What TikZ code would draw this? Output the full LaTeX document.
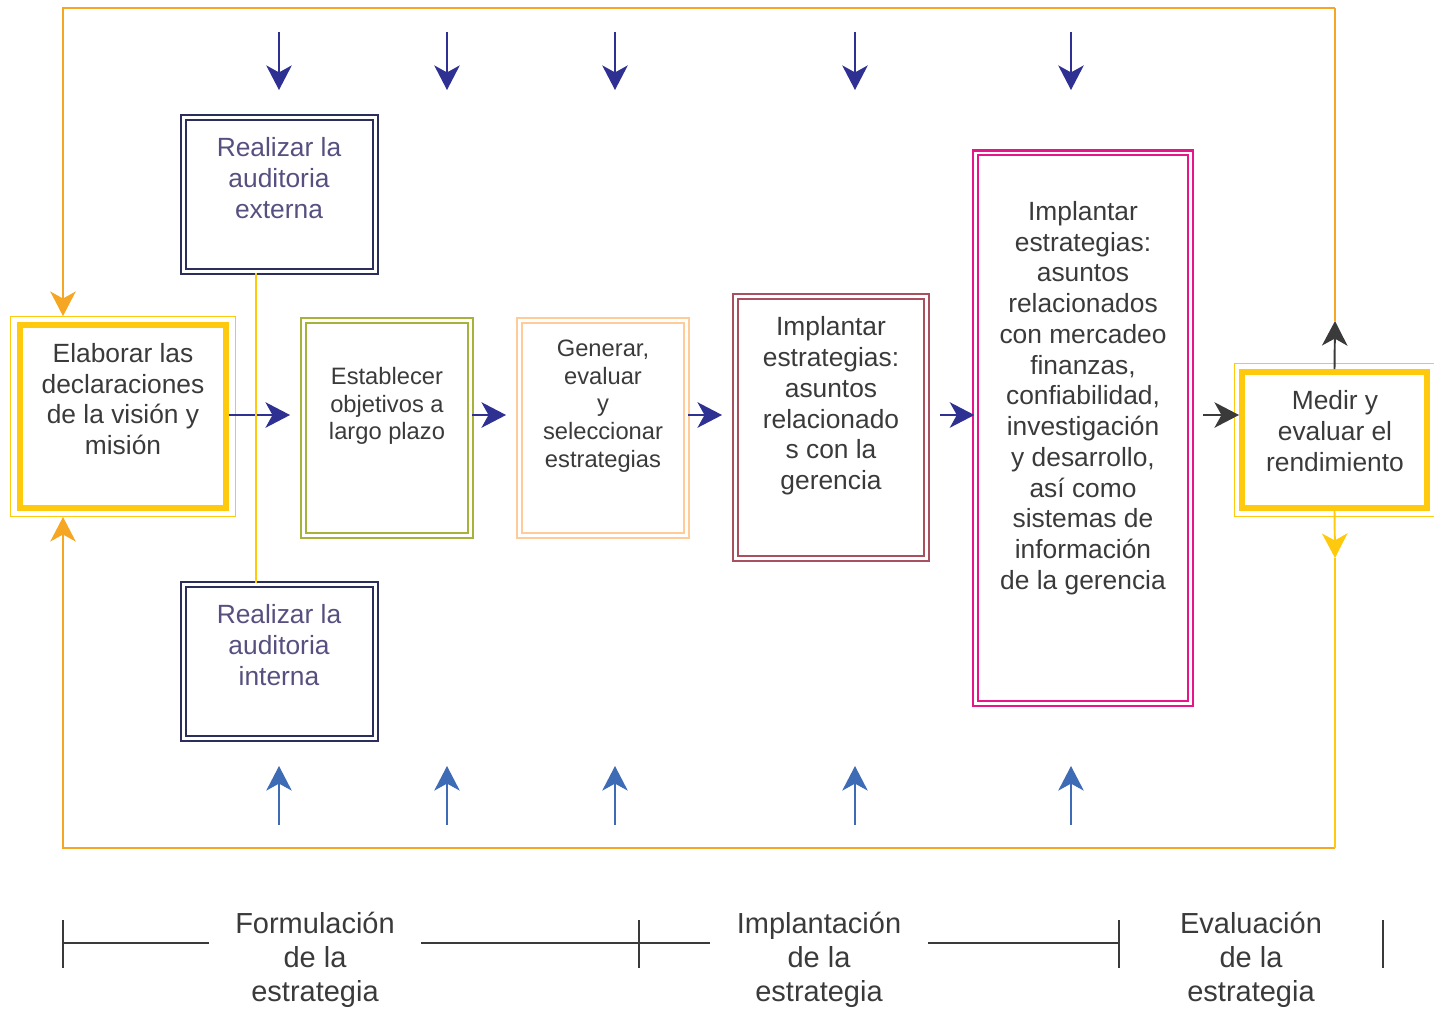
\documentclass[tikz,border=0pt]{standalone}
\usepackage{fontspec}
\setmainfont{Liberation Sans}
\usepackage{xcolor}
\usetikzlibrary{arrows.meta}
\definecolor{PEOrange}{HTML}{F5A623}
\definecolor{PEYellow}{HTML}{FFC90E}
\definecolor{PENavy}{HTML}{2B2D5B}
\definecolor{PEPurple}{HTML}{55507F}
\definecolor{PEOlive}{HTML}{A7B23A}
\definecolor{PEPeach}{HTML}{FFCC99}
\definecolor{PEMauve}{HTML}{A8505F}
\definecolor{PEMagenta}{HTML}{E6168A}
\definecolor{PEArrow}{HTML}{2E3192}
\definecolor{PEBlue}{HTML}{3D6BB5}
\definecolor{PEText}{HTML}{3A3A3A}

\begin{document}
\begin{tikzpicture}[x=0.02cm,y=-0.02cm,
  >={Stealth[length=14pt,width=14.5pt,inset=4pt]},
  dbox/.style={draw=#1,double=white,line width=1.3pt,double distance=1.2pt,inner sep=0pt},
  ybox/.style={draw=PEYellow,line width=3.4pt,inner sep=0pt},
  yframe/.style={draw=PEYellow,line width=0.8pt,inner sep=0pt},
  txt/.style={align=center,text=PEText,font=\fontsize{15}{17.5}\selectfont},
  small/.style={align=center,text=PEText,font=\fontsize{13.5}{15.8}\selectfont},
  phase/.style={align=center,text=PEText,inner xsep=15pt,font=\fontsize{16.5}{19.3}\selectfont},
  flow/.style={PEArrow,line width=1.1pt,->},
  darkflow/.style={PEText,line width=1.1pt,->},
  loopline/.style={PEOrange,line width=1.1pt},
  yline/.style={PEYellow,line width=1.1pt},
  tline/.style={PEText,line width=0.85pt}]
\path[use as bounding box] (0,0) rectangle (1434,1009);

% boxes
\node[ybox,minimum width=4.12cm,minimum height=3.66cm] (ela) at (123,416.5) {};
\node[yframe,minimum width=4.49cm,minimum height=3.99cm] (elo) at (123,416.5) {};
\node[dbox=PENavy,minimum width=3.84cm,minimum height=3.08cm] (ext) at (279.5,194.5) {};
\node[dbox=PENavy,minimum width=3.84cm,minimum height=3.08cm] (int) at (279.5,661.5) {};
\node[dbox=PEOlive,minimum width=3.34cm,minimum height=4.30cm] (est) at (387,428) {};
\node[dbox=PEPeach,minimum width=3.34cm,minimum height=4.30cm] (gen) at (603,428) {};
\node[dbox=PEMauve,minimum width=3.82cm,minimum height=5.24cm] (ger) at (831,427.5) {};
\node[dbox=PEMagenta,minimum width=4.30cm,minimum height=11.02cm] (mer) at (1083,428) {};
\node[ybox,minimum width=3.70cm,minimum height=2.72cm] (med) at (1334.5,440) {};
\node[yframe,minimum width=3.99cm,minimum height=3.05cm] (mdo) at (1334.5,440) {};

% texts
\node[txt] (elat) at (123,399) {Elaborar las\\declaraciones\\de la visión y\\misión};
\node[txt,text=PEPurple] (extt) at (279,178) {Realizar la\\auditoria\\externa};
\node[txt,text=PEPurple] (intt) at (279,645) {Realizar la\\auditoria\\interna};
\node[small] (estt) at (387,406) {Establecer\\objetivos a\\largo plazo};
\node[small] (gent) at (603,406) {Generar,\\evaluar\\y\\seleccionar\\estrategias};
\node[txt] (gert) at (831,406) {Implantar\\estrategias:\\asuntos\\relacionado\\s con la\\gerencia};
\node[txt] (mert) at (1083,398) {Implantar\\estrategias:\\asuntos\\relacionados\\con mercadeo\\finanzas,\\confiabilidad,\\investigación\\y desarrollo,\\así como\\sistemas de\\información\\de la gerencia};
\node[txt] (medt) at (1335,431) {Medir y\\evaluar el\\rendimiento};

% main flow
\coordinate (fl) at (0,415);
\draw[flow,shorten >=7pt] (ela.east |- fl) -- (est.west |- fl);
\draw[flow,shorten >=7pt] (est.east |- fl) -- (gen.west |- fl);
\draw[flow,shorten >=7pt] (gen.east |- fl) -- (ger.west |- fl);
\draw[flow,shorten <=7pt] (ger.east |- fl) -- (mer.west |- fl);
\draw[darkflow,shorten <=6.5pt] (mer.east |- fl) -- (med.west |- fl);
\draw[yline] ([xshift=-0.47cm]ext.south) -- ([xshift=-0.47cm]int.north);

% feedback loop
\coordinate (tl) at (63,8);
\coordinate (tr) at (1335,8);
\coordinate (bl) at (63,848);
\coordinate (br) at (1335,848);
\coordinate (medtop) at (1335,321);
\coordinate (medbot) at (1335,558);
\draw[loopline,->] (tr) -- (tl) -- (tl |- elo.north);
\draw[loopline,->] (br) -- (bl) -- (bl |- elo.south);
\draw[loopline] (tr) -- (medtop);
\draw[darkflow] (med.north) -- (medtop);
\draw[yline,->] (med.south) -- (medbot);
\draw[yline] (medbot) -- (br);

% outside arrows
\foreach \x in {279,447,615,855,1071} {
  \draw[flow] (\x,32) -- (\x,90);
  \draw[PEBlue,line width=1.1pt,->] (\x,825) -- (\x,766);
}

% phases
\foreach \x/\n in {63/t1,639/t2,1119/t3,1383/t4} {
  \coordinate (\n) at (\x,943);
  \draw[tline] (\x,920) -- (\x,968);
}
\node[phase] (fo) at (315,960) {Formulación\\de la\\estrategia};
\node[phase] (im) at (819,960) {Implantación\\de la\\estrategia};
\node[phase] (ev) at (1251,960) {Evaluación\\de la\\estrategia};
\draw[tline] (t1) -- (t1 -| fo.west);
\draw[tline] (fo.east |- t1) -- (t2 -| im.west);
\draw[tline] (im.east |- t2) -- (t3);
\end{tikzpicture}
\end{document}
